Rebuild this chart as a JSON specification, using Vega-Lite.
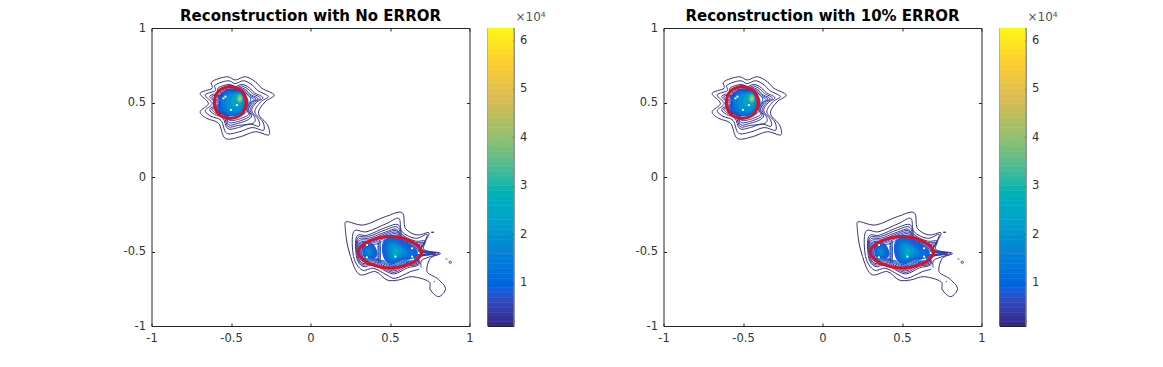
{
"$schema":"https://vega.github.io/schema/vega-lite/v6.json",
"background":"white",
"padding":{"left":122.5,"top":8,"right":5,"bottom":5},
"bounds":"flush",
"spacing":18,
"config":{"view":{"stroke":"#262626","strokeWidth":1},
"axis":{"labelFont":"DejaVu Sans","labelFontSize":11.5,"labelColor":"#333333","tickColor":"#262626","tickSize":-3,"domain":false,"grid":false,"title":null,"labelOverlap":false,"labelBound":false,"labelFlush":false,"labelPadding":9},
"title":{"font":"DejaVu Sans","fontSize":15,"fontWeight":"bold","color":"#000000","offset":-2}},
"datasets":{
"red":[
{"c":"r1","x":-0.505,"y":0.607},{"c":"r1","x":-0.465,"y":0.598},{"c":"r1","x":-0.43,"y":0.575},{"c":"r1","x":-0.412,"y":0.54},{"c":"r1","x":-0.405,"y":0.5},{"c":"r1","x":-0.412,"y":0.46},{"c":"r1","x":-0.43,"y":0.425},{"c":"r1","x":-0.465,"y":0.402},{"c":"r1","x":-0.505,"y":0.393},{"c":"r1","x":-0.545,"y":0.402},{"c":"r1","x":-0.58,"y":0.425},{"c":"r1","x":-0.598,"y":0.46},{"c":"r1","x":-0.605,"y":0.5},{"c":"r1","x":-0.598,"y":0.54},{"c":"r1","x":-0.58,"y":0.575},{"c":"r1","x":-0.545,"y":0.598},
{"c":"r2","x":0.5,"y":-0.4},{"c":"r2","x":0.56,"y":-0.406},{"c":"r2","x":0.62,"y":-0.425},{"c":"r2","x":0.67,"y":-0.455},{"c":"r2","x":0.7,"y":-0.505},{"c":"r2","x":0.67,"y":-0.555},{"c":"r2","x":0.62,"y":-0.585},{"c":"r2","x":0.56,"y":-0.604},{"c":"r2","x":0.5,"y":-0.61},{"c":"r2","x":0.44,"y":-0.604},{"c":"r2","x":0.38,"y":-0.585},{"c":"r2","x":0.33,"y":-0.555},{"c":"r2","x":0.3,"y":-0.505},{"c":"r2","x":0.33,"y":-0.455},{"c":"r2","x":0.38,"y":-0.425},{"c":"r2","x":0.44,"y":-0.406}],
"specks":[{"x":-0.547,"y":0.528},{"x":-0.535,"y":0.54},{"x":-0.5,"y":0.45},{"x":-0.463,"y":0.483},{"x":0.355,"y":-0.456},{"x":0.355,"y":-0.539},{"x":0.534,"y":-0.535},{"x":0.639,"y":-0.479},{"x":0.639,"y":-0.535},{"x":0.691,"y":-0.613}],
"fills":[
{"c":"a1","v":1.0,"x":-0.52,"y":0.59},{"c":"a1","v":1.0,"x":-0.44,"y":0.585},{"c":"a1","v":1.0,"x":-0.4,"y":0.54},{"c":"a1","v":1.0,"x":-0.39,"y":0.49},{"c":"a1","v":1.0,"x":-0.42,"y":0.44},{"c":"a1","v":1.0,"x":-0.47,"y":0.41},{"c":"a1","v":1.0,"x":-0.53,"y":0.41},{"c":"a1","v":1.0,"x":-0.585,"y":0.445},{"c":"a1","v":1.0,"x":-0.575,"y":0.5},{"c":"a1","v":1.0,"x":-0.58,"y":0.54},
{"c":"a2","v":1.4,"x":-0.51,"y":0.575},{"c":"a2","v":1.4,"x":-0.445,"y":0.575},{"c":"a2","v":1.4,"x":-0.41,"y":0.53},{"c":"a2","v":1.4,"x":-0.405,"y":0.48},{"c":"a2","v":1.4,"x":-0.44,"y":0.43},{"c":"a2","v":1.4,"x":-0.5,"y":0.42},{"c":"a2","v":1.4,"x":-0.55,"y":0.45},{"c":"a2","v":1.4,"x":-0.565,"y":0.51},{"c":"a2","v":1.4,"x":-0.55,"y":0.55},
{"c":"a3","v":1.9,"x":-0.5,"y":0.56},{"c":"a3","v":1.9,"x":-0.45,"y":0.565},{"c":"a3","v":1.9,"x":-0.42,"y":0.52},{"c":"a3","v":1.9,"x":-0.425,"y":0.47},{"c":"a3","v":1.9,"x":-0.46,"y":0.44},{"c":"a3","v":1.9,"x":-0.51,"y":0.445},{"c":"a3","v":1.9,"x":-0.535,"y":0.49},{"c":"a3","v":1.9,"x":-0.53,"y":0.535},
{"c":"a4","v":2.4,"x":-0.48,"y":0.55},{"c":"a4","v":2.4,"x":-0.44,"y":0.56},{"c":"a4","v":2.4,"x":-0.425,"y":0.52},{"c":"a4","v":2.4,"x":-0.44,"y":0.48},{"c":"a4","v":2.4,"x":-0.475,"y":0.47},{"c":"a4","v":2.4,"x":-0.5,"y":0.5},
{"c":"a5","v":3.5,"x":-0.45,"y":0.555},{"c":"a5","v":3.5,"x":-0.43,"y":0.54},{"c":"a5","v":3.5,"x":-0.43,"y":0.51},{"c":"a5","v":3.5,"x":-0.45,"y":0.5},{"c":"a5","v":3.5,"x":-0.465,"y":0.525},
{"c":"a6","v":4.8,"x":-0.443,"y":0.54},{"c":"a6","v":4.8,"x":-0.435,"y":0.525},{"c":"a6","v":4.8,"x":-0.447,"y":0.515},{"c":"a6","v":4.8,"x":-0.452,"y":0.528},
{"c":"b1","v":0.8,"x":0.46,"y":-0.43},{"c":"b1","v":0.8,"x":0.53,"y":-0.4},{"c":"b1","v":0.8,"x":0.6,"y":-0.44},{"c":"b1","v":0.8,"x":0.67,"y":-0.49},{"c":"b1","v":0.8,"x":0.66,"y":-0.54},{"c":"b1","v":0.8,"x":0.58,"y":-0.56},{"c":"b1","v":0.8,"x":0.52,"y":-0.585},{"c":"b1","v":0.8,"x":0.47,"y":-0.56},{"c":"b1","v":0.8,"x":0.45,"y":-0.5},
{"c":"b2","v":1.2,"x":0.47,"y":-0.44},{"c":"b2","v":1.2,"x":0.53,"y":-0.42},{"c":"b2","v":1.2,"x":0.59,"y":-0.46},{"c":"b2","v":1.2,"x":0.65,"y":-0.5},{"c":"b2","v":1.2,"x":0.64,"y":-0.53},{"c":"b2","v":1.2,"x":0.57,"y":-0.55},{"c":"b2","v":1.2,"x":0.52,"y":-0.57},{"c":"b2","v":1.2,"x":0.48,"y":-0.55},
{"c":"b3","v":1.6,"x":0.49,"y":-0.45},{"c":"b3","v":1.6,"x":0.53,"y":-0.44},{"c":"b3","v":1.6,"x":0.58,"y":-0.47},{"c":"b3","v":1.6,"x":0.61,"y":-0.51},{"c":"b3","v":1.6,"x":0.56,"y":-0.54},{"c":"b3","v":1.6,"x":0.52,"y":-0.555},{"c":"b3","v":1.6,"x":0.49,"y":-0.53},
{"c":"b4","v":2.1,"x":0.51,"y":-0.46},{"c":"b4","v":2.1,"x":0.54,"y":-0.46},{"c":"b4","v":2.1,"x":0.58,"y":-0.5},{"c":"b4","v":2.1,"x":0.55,"y":-0.53},{"c":"b4","v":2.1,"x":0.52,"y":-0.54},{"c":"b4","v":2.1,"x":0.505,"y":-0.51},
{"c":"b5","v":2.7,"x":0.525,"y":-0.48},{"c":"b5","v":2.7,"x":0.545,"y":-0.485},{"c":"b5","v":2.7,"x":0.55,"y":-0.51},{"c":"b5","v":2.7,"x":0.53,"y":-0.525},{"c":"b5","v":2.7,"x":0.52,"y":-0.505},
{"c":"b6","v":0.8,"x":0.33,"y":-0.46},{"c":"b6","v":0.8,"x":0.39,"y":-0.45},{"c":"b6","v":0.8,"x":0.42,"y":-0.5},{"c":"b6","v":0.8,"x":0.41,"y":-0.54},{"c":"b6","v":0.8,"x":0.34,"y":-0.54},{"c":"b6","v":0.8,"x":0.325,"y":-0.5},
{"c":"b7","v":1.3,"x":0.345,"y":-0.47},{"c":"b7","v":1.3,"x":0.38,"y":-0.47},{"c":"b7","v":1.3,"x":0.395,"y":-0.5},{"c":"b7","v":1.3,"x":0.385,"y":-0.53},{"c":"b7","v":1.3,"x":0.35,"y":-0.53},{"c":"b7","v":1.3,"x":0.34,"y":-0.5},
{"c":"b8","v":1.8,"x":0.355,"y":-0.485},{"c":"b8","v":1.8,"x":0.375,"y":-0.485},{"c":"b8","v":1.8,"x":0.38,"y":-0.51},{"c":"b8","v":1.8,"x":0.36,"y":-0.52}],
"lines":[
{"c":"p1","v":0.15,"x":-0.526,"y":0.673},{"c":"p1","v":0.15,"x":-0.473,"y":0.651},{"c":"p1","v":0.15,"x":-0.41,"y":0.673},{"c":"p1","v":0.15,"x":-0.347,"y":0.64},{"c":"p1","v":0.15,"x":-0.305,"y":0.595},{"c":"p1","v":0.15,"x":-0.228,"y":0.55},{"c":"p1","v":0.15,"x":-0.285,"y":0.505},{"c":"p1","v":0.15,"x":-0.327,"y":0.427},{"c":"p1","v":0.15,"x":-0.27,"y":0.349},{"c":"p1","v":0.15,"x":-0.263,"y":0.282},{"c":"p1","v":0.15,"x":-0.347,"y":0.304},{"c":"p1","v":0.15,"x":-0.442,"y":0.27},{"c":"p1","v":0.15,"x":-0.536,"y":0.259},{"c":"p1","v":0.15,"x":-0.578,"y":0.36},{"c":"p1","v":0.15,"x":-0.652,"y":0.393},{"c":"p1","v":0.15,"x":-0.694,"y":0.438},{"c":"p1","v":0.15,"x":-0.642,"y":0.494},{"c":"p1","v":0.15,"x":-0.694,"y":0.561},{"c":"p1","v":0.15,"x":-0.62,"y":0.595},{"c":"p1","v":0.15,"x":-0.62,"y":0.64},
{"c":"p2","v":0.2,"x":-0.519,"y":0.646},{"c":"p2","v":0.2,"x":-0.474,"y":0.627},{"c":"p2","v":0.2,"x":-0.42,"y":0.646},{"c":"p2","v":0.2,"x":-0.367,"y":0.618},{"c":"p2","v":0.2,"x":-0.331,"y":0.579},{"c":"p2","v":0.2,"x":-0.266,"y":0.541},{"c":"p2","v":0.2,"x":-0.314,"y":0.503},{"c":"p2","v":0.2,"x":-0.35,"y":0.436},{"c":"p2","v":0.2,"x":-0.3,"y":0.37},{"c":"p2","v":0.2,"x":-0.296,"y":0.313},{"c":"p2","v":0.2,"x":-0.367,"y":0.332},{"c":"p2","v":0.2,"x":-0.448,"y":0.303},{"c":"p2","v":0.2,"x":-0.528,"y":0.294},{"c":"p2","v":0.2,"x":-0.563,"y":0.38},{"c":"p2","v":0.2,"x":-0.626,"y":0.408},{"c":"p2","v":0.2,"x":-0.662,"y":0.446},{"c":"p2","v":0.2,"x":-0.618,"y":0.493},{"c":"p2","v":0.2,"x":-0.662,"y":0.55},{"c":"p2","v":0.2,"x":-0.599,"y":0.579},{"c":"p2","v":0.2,"x":-0.599,"y":0.618},
{"c":"p3","v":0.25,"x":-0.513,"y":0.622},{"c":"p3","v":0.25,"x":-0.475,"y":0.606},{"c":"p3","v":0.25,"x":-0.43,"y":0.622},{"c":"p3","v":0.25,"x":-0.384,"y":0.598},{"c":"p3","v":0.25,"x":-0.354,"y":0.566},{"c":"p3","v":0.25,"x":-0.299,"y":0.533},{"c":"p3","v":0.25,"x":-0.34,"y":0.5},{"c":"p3","v":0.25,"x":-0.37,"y":0.445},{"c":"p3","v":0.25,"x":-0.329,"y":0.388},{"c":"p3","v":0.25,"x":-0.324,"y":0.34},{"c":"p3","v":0.25,"x":-0.384,"y":0.356},{"c":"p3","v":0.25,"x":-0.453,"y":0.332},{"c":"p3","v":0.25,"x":-0.52,"y":0.324},{"c":"p3","v":0.25,"x":-0.551,"y":0.396},{"c":"p3","v":0.25,"x":-0.604,"y":0.42},{"c":"p3","v":0.25,"x":-0.634,"y":0.453},{"c":"p3","v":0.25,"x":-0.597,"y":0.493},{"c":"p3","v":0.25,"x":-0.634,"y":0.541},{"c":"p3","v":0.25,"x":-0.581,"y":0.566},{"c":"p3","v":0.25,"x":-0.581,"y":0.598},
{"c":"p35","v":0.28,"x":-0.51,"y":0.611},{"c":"p35","v":0.28,"x":-0.475,"y":0.596},{"c":"p35","v":0.28,"x":-0.434,"y":0.611},{"c":"p35","v":0.28,"x":-0.392,"y":0.589},{"c":"p35","v":0.28,"x":-0.364,"y":0.56},{"c":"p35","v":0.28,"x":-0.315,"y":0.53},{"c":"p35","v":0.28,"x":-0.351,"y":0.5},{"c":"p35","v":0.28,"x":-0.38,"y":0.448},{"c":"p35","v":0.28,"x":-0.35,"y":0.399},{"c":"p35","v":0.28,"x":-0.362,"y":0.36},{"c":"p35","v":0.28,"x":-0.455,"y":0.346},{"c":"p35","v":0.28,"x":-0.517,"y":0.337},{"c":"p35","v":0.28,"x":-0.545,"y":0.404},{"c":"p35","v":0.28,"x":-0.593,"y":0.426},{"c":"p35","v":0.28,"x":-0.621,"y":0.456},{"c":"p35","v":0.28,"x":-0.587,"y":0.492},{"c":"p35","v":0.28,"x":-0.621,"y":0.537},{"c":"p35","v":0.28,"x":-0.572,"y":0.56},{"c":"p35","v":0.28,"x":-0.572,"y":0.589},
{"c":"p4","v":0.32,"x":-0.508,"y":0.6},{"c":"p4","v":0.32,"x":-0.476,"y":0.587},{"c":"p4","v":0.32,"x":-0.438,"y":0.6},{"c":"p4","v":0.32,"x":-0.4,"y":0.58},{"c":"p4","v":0.32,"x":-0.375,"y":0.553},{"c":"p4","v":0.32,"x":-0.33,"y":0.526},{"c":"p4","v":0.32,"x":-0.363,"y":0.5},{"c":"p4","v":0.32,"x":-0.39,"y":0.452},{"c":"p4","v":0.32,"x":-0.37,"y":0.41},{"c":"p4","v":0.32,"x":-0.4,"y":0.38},{"c":"p4","v":0.32,"x":-0.457,"y":0.36},{"c":"p4","v":0.32,"x":-0.514,"y":0.35},{"c":"p4","v":0.32,"x":-0.539,"y":0.412},{"c":"p4","v":0.32,"x":-0.583,"y":0.432},{"c":"p4","v":0.32,"x":-0.608,"y":0.459},{"c":"p4","v":0.32,"x":-0.577,"y":0.492},{"c":"p4","v":0.32,"x":-0.608,"y":0.533},{"c":"p4","v":0.32,"x":-0.564,"y":0.553},{"c":"p4","v":0.32,"x":-0.564,"y":0.58},
{"c":"p45","v":0.4,"x":-0.506,"y":0.592},{"c":"p45","v":0.4,"x":-0.476,"y":0.58},{"c":"p45","v":0.4,"x":-0.44,"y":0.592},{"c":"p45","v":0.4,"x":-0.405,"y":0.574},{"c":"p45","v":0.4,"x":-0.382,"y":0.549},{"c":"p45","v":0.4,"x":-0.342,"y":0.523},{"c":"p45","v":0.4,"x":-0.372,"y":0.499},{"c":"p45","v":0.4,"x":-0.395,"y":0.453},{"c":"p45","v":0.4,"x":-0.38,"y":0.415},{"c":"p45","v":0.4,"x":-0.41,"y":0.39},{"c":"p45","v":0.4,"x":-0.458,"y":0.372},{"c":"p45","v":0.4,"x":-0.512,"y":0.365},{"c":"p45","v":0.4,"x":-0.535,"y":0.418},{"c":"p45","v":0.4,"x":-0.576,"y":0.436},{"c":"p45","v":0.4,"x":-0.601,"y":0.46},{"c":"p45","v":0.4,"x":-0.571,"y":0.492},{"c":"p45","v":0.4,"x":-0.599,"y":0.529},{"c":"p45","v":0.4,"x":-0.558,"y":0.549},{"c":"p45","v":0.4,"x":-0.558,"y":0.574},
{"c":"p5","v":0.55,"x":-0.504,"y":0.585},{"c":"p5","v":0.55,"x":-0.476,"y":0.574},{"c":"p5","v":0.55,"x":-0.443,"y":0.585},{"c":"p5","v":0.55,"x":-0.41,"y":0.568},{"c":"p5","v":0.55,"x":-0.39,"y":0.545},{"c":"p5","v":0.55,"x":-0.355,"y":0.52},{"c":"p5","v":0.55,"x":-0.38,"y":0.498},{"c":"p5","v":0.55,"x":-0.4,"y":0.455},{"c":"p5","v":0.55,"x":-0.39,"y":0.42},{"c":"p5","v":0.55,"x":-0.42,"y":0.4},{"c":"p5","v":0.55,"x":-0.46,"y":0.385},{"c":"p5","v":0.55,"x":-0.51,"y":0.38},{"c":"p5","v":0.55,"x":-0.53,"y":0.425},{"c":"p5","v":0.55,"x":-0.57,"y":0.44},{"c":"p5","v":0.55,"x":-0.595,"y":0.46},{"c":"p5","v":0.55,"x":-0.565,"y":0.492},{"c":"p5","v":0.55,"x":-0.59,"y":0.525},{"c":"p5","v":0.55,"x":-0.553,"y":0.545},{"c":"p5","v":0.55,"x":-0.553,"y":0.568},
{"c":"p6","v":0.8,"x":-0.5,"y":0.575},{"c":"p6","v":0.8,"x":-0.44,"y":0.575},{"c":"p6","v":0.8,"x":-0.4,"y":0.555},{"c":"p6","v":0.8,"x":-0.375,"y":0.52},{"c":"p6","v":0.8,"x":-0.4,"y":0.47},{"c":"p6","v":0.8,"x":-0.41,"y":0.43},{"c":"p6","v":0.8,"x":-0.46,"y":0.405},{"c":"p6","v":0.8,"x":-0.51,"y":0.4},{"c":"p6","v":0.8,"x":-0.53,"y":0.43},{"c":"p6","v":0.8,"x":-0.585,"y":0.455},{"c":"p6","v":0.8,"x":-0.56,"y":0.49},{"c":"p6","v":0.8,"x":-0.575,"y":0.52},{"c":"p6","v":0.8,"x":-0.545,"y":0.54},{"c":"p6","v":0.8,"x":-0.54,"y":0.56},
{"c":"q1","v":0.15,"x":0.229,"y":-0.3},{"c":"q1","v":0.15,"x":0.334,"y":-0.322},{"c":"q1","v":0.15,"x":0.471,"y":-0.266},{"c":"q1","v":0.15,"x":0.576,"y":-0.239},{"c":"q1","v":0.15,"x":0.597,"y":-0.345},{"c":"q1","v":0.15,"x":0.67,"y":-0.389},{"c":"q1","v":0.15,"x":0.744,"y":-0.374},{"c":"q1","v":0.15,"x":0.723,"y":-0.434},{"c":"q1","v":0.15,"x":0.717,"y":-0.49},{"c":"q1","v":0.15,"x":0.817,"y":-0.512},{"c":"q1","v":0.15,"x":0.754,"y":-0.546},{"c":"q1","v":0.15,"x":0.733,"y":-0.635},{"c":"q1","v":0.15,"x":0.796,"y":-0.68},{"c":"q1","v":0.15,"x":0.849,"y":-0.747},{"c":"q1","v":0.15,"x":0.807,"y":-0.803},{"c":"q1","v":0.15,"x":0.754,"y":-0.758},{"c":"q1","v":0.15,"x":0.744,"y":-0.702},{"c":"q1","v":0.15,"x":0.639,"y":-0.669},{"c":"q1","v":0.15,"x":0.555,"y":-0.691},{"c":"q1","v":0.15,"x":0.481,"y":-0.691},{"c":"q1","v":0.15,"x":0.408,"y":-0.635},{"c":"q1","v":0.15,"x":0.303,"y":-0.651},{"c":"q1","v":0.15,"x":0.24,"y":-0.49},{"c":"q1","v":0.15,"x":0.219,"y":-0.345},
{"c":"q2","v":0.2,"x":0.271,"y":-0.367},{"c":"q2","v":0.2,"x":0.355,"y":-0.367},{"c":"q2","v":0.2,"x":0.481,"y":-0.311},{"c":"q2","v":0.2,"x":0.555,"y":-0.277},{"c":"q2","v":0.2,"x":0.576,"y":-0.367},{"c":"q2","v":0.2,"x":0.66,"y":-0.412},{"c":"q2","v":0.2,"x":0.733,"y":-0.385},{"c":"q2","v":0.2,"x":0.712,"y":-0.445},{"c":"q2","v":0.2,"x":0.691,"y":-0.501},{"c":"q2","v":0.2,"x":0.807,"y":-0.512},{"c":"q2","v":0.2,"x":0.702,"y":-0.557},{"c":"q2","v":0.2,"x":0.691,"y":-0.613},{"c":"q2","v":0.2,"x":0.628,"y":-0.635},{"c":"q2","v":0.2,"x":0.534,"y":-0.68},{"c":"q2","v":0.2,"x":0.481,"y":-0.658},{"c":"q2","v":0.2,"x":0.397,"y":-0.613},{"c":"q2","v":0.2,"x":0.324,"y":-0.624},{"c":"q2","v":0.2,"x":0.271,"y":-0.535},
{"c":"q3","v":0.25,"x":0.29,"y":-0.4},{"c":"q3","v":0.25,"x":0.36,"y":-0.39},{"c":"q3","v":0.25,"x":0.47,"y":-0.34},{"c":"q3","v":0.25,"x":0.55,"y":-0.32},{"c":"q3","v":0.25,"x":0.58,"y":-0.39},{"c":"q3","v":0.25,"x":0.66,"y":-0.43},{"c":"q3","v":0.25,"x":0.72,"y":-0.43},{"c":"q3","v":0.25,"x":0.7,"y":-0.49},{"c":"q3","v":0.25,"x":0.79,"y":-0.515},{"c":"q3","v":0.25,"x":0.69,"y":-0.535},{"c":"q3","v":0.25,"x":0.68,"y":-0.59},{"c":"q3","v":0.25,"x":0.61,"y":-0.61},{"c":"q3","v":0.25,"x":0.53,"y":-0.65},{"c":"q3","v":0.25,"x":0.47,"y":-0.63},{"c":"q3","v":0.25,"x":0.4,"y":-0.59},{"c":"q3","v":0.25,"x":0.33,"y":-0.6},{"c":"q3","v":0.25,"x":0.29,"y":-0.54},
{"c":"q35","v":0.28,"x":0.295,"y":-0.41},{"c":"q35","v":0.28,"x":0.365,"y":-0.4},{"c":"q35","v":0.28,"x":0.47,"y":-0.355},{"c":"q35","v":0.28,"x":0.545,"y":-0.335},{"c":"q35","v":0.28,"x":0.58,"y":-0.4},{"c":"q35","v":0.28,"x":0.66,"y":-0.44},{"c":"q35","v":0.28,"x":0.715,"y":-0.44},{"c":"q35","v":0.28,"x":0.695,"y":-0.49},{"c":"q35","v":0.28,"x":0.78,"y":-0.515},{"c":"q35","v":0.28,"x":0.685,"y":-0.532},{"c":"q35","v":0.28,"x":0.675,"y":-0.585},{"c":"q35","v":0.28,"x":0.605,"y":-0.6},{"c":"q35","v":0.28,"x":0.53,"y":-0.64},{"c":"q35","v":0.28,"x":0.47,"y":-0.62},{"c":"q35","v":0.28,"x":0.4,"y":-0.58},{"c":"q35","v":0.28,"x":0.33,"y":-0.59},{"c":"q35","v":0.28,"x":0.295,"y":-0.535},
{"c":"q4","v":0.32,"x":0.3,"y":-0.42},{"c":"q4","v":0.32,"x":0.37,"y":-0.41},{"c":"q4","v":0.32,"x":0.47,"y":-0.37},{"c":"q4","v":0.32,"x":0.54,"y":-0.35},{"c":"q4","v":0.32,"x":0.58,"y":-0.41},{"c":"q4","v":0.32,"x":0.66,"y":-0.45},{"c":"q4","v":0.32,"x":0.71,"y":-0.45},{"c":"q4","v":0.32,"x":0.69,"y":-0.49},{"c":"q4","v":0.32,"x":0.77,"y":-0.515},{"c":"q4","v":0.32,"x":0.68,"y":-0.53},{"c":"q4","v":0.32,"x":0.67,"y":-0.58},{"c":"q4","v":0.32,"x":0.6,"y":-0.59},{"c":"q4","v":0.32,"x":0.53,"y":-0.63},{"c":"q4","v":0.32,"x":0.47,"y":-0.61},{"c":"q4","v":0.32,"x":0.4,"y":-0.57},{"c":"q4","v":0.32,"x":0.33,"y":-0.58},{"c":"q4","v":0.32,"x":0.3,"y":-0.53},
{"c":"q45","v":0.4,"x":0.305,"y":-0.43},{"c":"q45","v":0.4,"x":0.375,"y":-0.42},{"c":"q45","v":0.4,"x":0.47,"y":-0.38},{"c":"q45","v":0.4,"x":0.54,"y":-0.36},{"c":"q45","v":0.4,"x":0.58,"y":-0.415},{"c":"q45","v":0.4,"x":0.655,"y":-0.455},{"c":"q45","v":0.4,"x":0.7,"y":-0.46},{"c":"q45","v":0.4,"x":0.685,"y":-0.495},{"c":"q45","v":0.4,"x":0.76,"y":-0.515},{"c":"q45","v":0.4,"x":0.675,"y":-0.528},{"c":"q45","v":0.4,"x":0.665,"y":-0.575},{"c":"q45","v":0.4,"x":0.6,"y":-0.582},{"c":"q45","v":0.4,"x":0.53,"y":-0.62},{"c":"q45","v":0.4,"x":0.47,"y":-0.6},{"c":"q45","v":0.4,"x":0.4,"y":-0.562},{"c":"q45","v":0.4,"x":0.335,"y":-0.57},{"c":"q45","v":0.4,"x":0.305,"y":-0.525},
{"c":"q5","v":0.5,"x":0.31,"y":-0.44},{"c":"q5","v":0.5,"x":0.38,"y":-0.43},{"c":"q5","v":0.5,"x":0.47,"y":-0.39},{"c":"q5","v":0.5,"x":0.54,"y":-0.37},{"c":"q5","v":0.5,"x":0.58,"y":-0.42},{"c":"q5","v":0.5,"x":0.65,"y":-0.46},{"c":"q5","v":0.5,"x":0.69,"y":-0.47},{"c":"q5","v":0.5,"x":0.68,"y":-0.5},{"c":"q5","v":0.5,"x":0.75,"y":-0.515},{"c":"q5","v":0.5,"x":0.67,"y":-0.525},{"c":"q5","v":0.5,"x":0.66,"y":-0.57},{"c":"q5","v":0.5,"x":0.6,"y":-0.575},{"c":"q5","v":0.5,"x":0.53,"y":-0.61},{"c":"q5","v":0.5,"x":0.47,"y":-0.59},{"c":"q5","v":0.5,"x":0.4,"y":-0.555},{"c":"q5","v":0.5,"x":0.34,"y":-0.56},{"c":"q5","v":0.5,"x":0.31,"y":-0.52},
{"c":"q56","v":0.65,"x":0.315,"y":-0.445},{"c":"q56","v":0.65,"x":0.385,"y":-0.438},{"c":"q56","v":0.65,"x":0.47,"y":-0.4},{"c":"q56","v":0.65,"x":0.54,"y":-0.38},{"c":"q56","v":0.65,"x":0.58,"y":-0.425},{"c":"q56","v":0.65,"x":0.645,"y":-0.465},{"c":"q56","v":0.65,"x":0.68,"y":-0.475},{"c":"q56","v":0.65,"x":0.74,"y":-0.515},{"c":"q56","v":0.65,"x":0.665,"y":-0.525},{"c":"q56","v":0.65,"x":0.655,"y":-0.565},{"c":"q56","v":0.65,"x":0.595,"y":-0.57},{"c":"q56","v":0.65,"x":0.53,"y":-0.602},{"c":"q56","v":0.65,"x":0.47,"y":-0.582},{"c":"q56","v":0.65,"x":0.4,"y":-0.548},{"c":"q56","v":0.65,"x":0.34,"y":-0.552},{"c":"q56","v":0.65,"x":0.315,"y":-0.515},
{"c":"q6","v":0.8,"x":0.32,"y":-0.45},{"c":"q6","v":0.8,"x":0.39,"y":-0.445},{"c":"q6","v":0.8,"x":0.47,"y":-0.41},{"c":"q6","v":0.8,"x":0.54,"y":-0.39},{"c":"q6","v":0.8,"x":0.58,"y":-0.43},{"c":"q6","v":0.8,"x":0.64,"y":-0.47},{"c":"q6","v":0.8,"x":0.67,"y":-0.48},{"c":"q6","v":0.8,"x":0.73,"y":-0.515},{"c":"q6","v":0.8,"x":0.66,"y":-0.525},{"c":"q6","v":0.8,"x":0.65,"y":-0.56},{"c":"q6","v":0.8,"x":0.59,"y":-0.565},{"c":"q6","v":0.8,"x":0.53,"y":-0.595},{"c":"q6","v":0.8,"x":0.47,"y":-0.575},{"c":"q6","v":0.8,"x":0.4,"y":-0.54},{"c":"q6","v":0.8,"x":0.34,"y":-0.545},{"c":"q6","v":0.8,"x":0.32,"y":-0.51},
{"c":"q7","v":0.95,"x":0.325,"y":-0.46},{"c":"q7","v":0.95,"x":0.39,"y":-0.455},{"c":"q7","v":0.95,"x":0.44,"y":-0.44},{"c":"q7","v":0.95,"x":0.47,"y":-0.42},{"c":"q7","v":0.95,"x":0.54,"y":-0.4},{"c":"q7","v":0.95,"x":0.6,"y":-0.44},{"c":"q7","v":0.95,"x":0.66,"y":-0.475},{"c":"q7","v":0.95,"x":0.69,"y":-0.515},{"c":"q7","v":0.95,"x":0.66,"y":-0.535},{"c":"q7","v":0.95,"x":0.58,"y":-0.565},{"c":"q7","v":0.95,"x":0.52,"y":-0.59},{"c":"q7","v":0.95,"x":0.47,"y":-0.565},{"c":"q7","v":0.95,"x":0.44,"y":-0.56},{"c":"q7","v":0.95,"x":0.39,"y":-0.55},{"c":"q7","v":0.95,"x":0.335,"y":-0.545},{"c":"q7","v":0.95,"x":0.32,"y":-0.5},
{"c":"s1","v":0.6,"x":0.425,"y":-0.44},{"c":"s1","v":0.6,"x":0.43,"y":-0.5},{"c":"s1","v":0.6,"x":0.425,"y":-0.56},
{"c":"s2","v":0.6,"x":0.437,"y":-0.43},{"c":"s2","v":0.6,"x":0.44,"y":-0.5},{"c":"s2","v":0.6,"x":0.437,"y":-0.57},
{"c":"d1","v":0.15,"x":0.76,"y":-0.371},{"c":"d1","v":0.15,"x":0.775,"y":-0.371},
{"c":"d2","v":0.15,"x":0.853,"y":-0.547},{"c":"d2","v":0.15,"x":0.858,"y":-0.553},
{"c":"d3","v":0.15,"x":0.875,"y":-0.565},{"c":"d3","v":0.15,"x":0.887,"y":-0.57},{"c":"d3","v":0.15,"x":0.88,"y":-0.582},{"c":"d3","v":0.15,"x":0.872,"y":-0.575},
{"c":"d4","v":0.15,"x":0.778,"y":-0.7},{"c":"d4","v":0.15,"x":0.782,"y":-0.705}],
"bar":[{"v":0.1,"w":0.2},{"v":0.2,"w":0.3},{"v":0.3,"w":0.4},{"v":0.4,"w":0.5},{"v":0.5,"w":0.6},{"v":0.6,"w":0.7},{"v":0.7,"w":0.8},{"v":0.8,"w":0.9},{"v":0.9,"w":1.0},{"v":1.0,"w":1.1},{"v":1.1,"w":1.2},{"v":1.2,"w":1.3},{"v":1.3,"w":1.4},{"v":1.4,"w":1.5},{"v":1.5,"w":1.6},{"v":1.6,"w":1.7},{"v":1.7,"w":1.8},{"v":1.8,"w":1.9},{"v":1.9,"w":2.0},{"v":2.0,"w":2.1},{"v":2.1,"w":2.2},{"v":2.2,"w":2.3},{"v":2.3,"w":2.4},{"v":2.4,"w":2.5},{"v":2.5,"w":2.6},{"v":2.6,"w":2.7},{"v":2.7,"w":2.8},{"v":2.8,"w":2.9},{"v":2.9,"w":3.0},{"v":3.0,"w":3.1},{"v":3.1,"w":3.2},{"v":3.2,"w":3.3},{"v":3.3,"w":3.4},{"v":3.4,"w":3.5},{"v":3.5,"w":3.6},{"v":3.6,"w":3.7},{"v":3.7,"w":3.8},{"v":3.8,"w":3.9},{"v":3.9,"w":4.0},{"v":4.0,"w":4.1},{"v":4.1,"w":4.2},{"v":4.2,"w":4.3},{"v":4.3,"w":4.4},{"v":4.4,"w":4.5},{"v":4.5,"w":4.6},{"v":4.6,"w":4.7},{"v":4.7,"w":4.8},{"v":4.8,"w":4.9},{"v":4.9,"w":5.0},{"v":5.0,"w":5.1},{"v":5.1,"w":5.2},{"v":5.2,"w":5.3},{"v":5.3,"w":5.4},{"v":5.4,"w":5.5},{"v":5.5,"w":5.6},{"v":5.6,"w":5.7},{"v":5.7,"w":5.8},{"v":5.8,"w":5.9},{"v":5.9,"w":6.0},{"v":6.0,"w":6.1},{"v":6.1,"w":6.2},{"v":6.2,"w":6.3}]
},
"hconcat":[
{"width":318,"height":298,"title":"Reconstruction with No ERROR",
"resolve":{"axis":{"x":"independent","y":"independent"}},
"layer":[
{"data":{"name":"fills"},"mark":{"type":"line","filled":true,"clip":true,"interpolate":"cardinal-closed"},
"encoding":{"x":{"field":"x","type":"quantitative","scale":{"domain":[-1,1],"nice":false},"axis":{"values":[-1,-0.5,0,0.5,1],"format":"~g","labelExpr":"replace(datum.label,'−','-')"}},
"y":{"field":"y","type":"quantitative","scale":{"domain":[-1,1],"nice":false},"axis":{"values":[-1,-0.5,0,0.5,1],"format":"~g","labelExpr":"replace(datum.label,'−','-')"}},
"detail":{"field":"c"},"order":{"value":null},
"color":{"field":"v","type":"quantitative","legend":null,"scale":{"domain":[0.115,6.247],"range":["#352a87","#0363e1","#1485d4","#06a7c6","#38b99e","#92bf73","#d9ba56","#fcce2e","#f9fb0e"]}}}},
{"data":{"name":"lines"},"mark":{"type":"line","strokeWidth":1,"clip":true,"interpolate":"cardinal-closed"},
"encoding":{"x":{"field":"x","type":"quantitative","scale":{"domain":[-1,1],"nice":false},"axis":null},
"y":{"field":"y","type":"quantitative","scale":{"domain":[-1,1],"nice":false},"axis":null},
"detail":{"field":"c"},"order":{"value":null},
"color":{"field":"v","type":"quantitative","legend":null,"scale":{"domain":[0.115,6.247],"range":["#352a87","#0363e1","#1485d4","#06a7c6","#38b99e","#92bf73","#d9ba56","#fcce2e","#f9fb0e"]}}}},
{"data":{"name":"specks"},"mark":{"type":"circle","size":5,"color":"white","opacity":1},
"encoding":{"x":{"field":"x","type":"quantitative","scale":{"domain":[-1,1],"nice":false},"axis":null},"y":{"field":"y","type":"quantitative","scale":{"domain":[-1,1],"nice":false},"axis":null}}},
{"data":{"name":"red"},"mark":{"type":"line","color":"#e01020","strokeWidth":3,"interpolate":"cardinal-closed"},
"encoding":{"x":{"field":"x","type":"quantitative","scale":{"domain":[-1,1],"nice":false},"axis":{"orient":"top","values":[-1,-0.5,0,0.5,1],"labels":false}},
"y":{"field":"y","type":"quantitative","scale":{"domain":[-1,1],"nice":false},"axis":{"orient":"right","values":[-1,-0.5,0,0.5,1],"labels":false}},
"detail":{"field":"c"},"order":{"value":null}}}
]},
{"width":26,"height":298,"title":{"text":"×10⁴","anchor":"start","dx":28,"fontSize":12,"fontWeight":"normal","color":"#555555","font":"DejaVu Sans","offset":4},
"data":{"name":"bar"},"mark":{"type":"rect","clip":true,"strokeWidth":0.6},
"encoding":{"y":{"field":"v","type":"quantitative","scale":{"domain":[0.115,6.247],"nice":false,"zero":false},"axis":{"orient":"right","values":[1,2,3,4,5,6],"format":"d"}},
"y2":{"field":"w"},
"stroke":{"field":"v","type":"quantitative","legend":null,"scale":{"domain":[0.115,6.247],"range":["#352a87","#0363e1","#1485d4","#06a7c6","#38b99e","#92bf73","#d9ba56","#fcce2e","#f9fb0e"]}},
"fill":{"field":"v","type":"quantitative","legend":null,"scale":{"domain":[0.115,6.247],"range":["#352a87","#0363e1","#1485d4","#06a7c6","#38b99e","#92bf73","#d9ba56","#fcce2e","#f9fb0e"]}}}},
{"width":114,"height":298,"view":{"stroke":null},"data":{"values":[{"a":1}]},"mark":{"type":"rule","opacity":0},"encoding":{}},
{"width":318,"height":298,"title":"Reconstruction with 10% ERROR",
"resolve":{"axis":{"x":"independent","y":"independent"}},
"layer":[
{"data":{"name":"fills"},"mark":{"type":"line","filled":true,"clip":true,"interpolate":"cardinal-closed"},
"encoding":{"x":{"field":"x","type":"quantitative","scale":{"domain":[-1,1],"nice":false},"axis":{"values":[-1,-0.5,0,0.5,1],"format":"~g","labelExpr":"replace(datum.label,'−','-')"}},
"y":{"field":"y","type":"quantitative","scale":{"domain":[-1,1],"nice":false},"axis":{"values":[-1,-0.5,0,0.5,1],"format":"~g","labelExpr":"replace(datum.label,'−','-')"}},
"detail":{"field":"c"},"order":{"value":null},
"color":{"field":"v","type":"quantitative","legend":null,"scale":{"domain":[0.115,6.247],"range":["#352a87","#0363e1","#1485d4","#06a7c6","#38b99e","#92bf73","#d9ba56","#fcce2e","#f9fb0e"]}}}},
{"data":{"name":"lines"},"mark":{"type":"line","strokeWidth":1,"clip":true,"interpolate":"cardinal-closed"},
"encoding":{"x":{"field":"x","type":"quantitative","scale":{"domain":[-1,1],"nice":false},"axis":null},
"y":{"field":"y","type":"quantitative","scale":{"domain":[-1,1],"nice":false},"axis":null},
"detail":{"field":"c"},"order":{"value":null},
"color":{"field":"v","type":"quantitative","legend":null,"scale":{"domain":[0.115,6.247],"range":["#352a87","#0363e1","#1485d4","#06a7c6","#38b99e","#92bf73","#d9ba56","#fcce2e","#f9fb0e"]}}}},
{"data":{"name":"specks"},"mark":{"type":"circle","size":5,"color":"white","opacity":1},
"encoding":{"x":{"field":"x","type":"quantitative","scale":{"domain":[-1,1],"nice":false},"axis":null},"y":{"field":"y","type":"quantitative","scale":{"domain":[-1,1],"nice":false},"axis":null}}},
{"data":{"name":"red"},"mark":{"type":"line","color":"#e01020","strokeWidth":3,"interpolate":"cardinal-closed"},
"encoding":{"x":{"field":"x","type":"quantitative","scale":{"domain":[-1,1],"nice":false},"axis":{"orient":"top","values":[-1,-0.5,0,0.5,1],"labels":false}},
"y":{"field":"y","type":"quantitative","scale":{"domain":[-1,1],"nice":false},"axis":{"orient":"right","values":[-1,-0.5,0,0.5,1],"labels":false}},
"detail":{"field":"c"},"order":{"value":null}}}
]},
{"width":26,"height":298,"title":{"text":"×10⁴","anchor":"start","dx":28,"fontSize":12,"fontWeight":"normal","color":"#555555","font":"DejaVu Sans","offset":4},
"data":{"name":"bar"},"mark":{"type":"rect","clip":true,"strokeWidth":0.6},
"encoding":{"y":{"field":"v","type":"quantitative","scale":{"domain":[0.115,6.247],"nice":false,"zero":false},"axis":{"orient":"right","values":[1,2,3,4,5,6],"format":"d"}},
"y2":{"field":"w"},
"stroke":{"field":"v","type":"quantitative","legend":null,"scale":{"domain":[0.115,6.247],"range":["#352a87","#0363e1","#1485d4","#06a7c6","#38b99e","#92bf73","#d9ba56","#fcce2e","#f9fb0e"]}},
"fill":{"field":"v","type":"quantitative","legend":null,"scale":{"domain":[0.115,6.247],"range":["#352a87","#0363e1","#1485d4","#06a7c6","#38b99e","#92bf73","#d9ba56","#fcce2e","#f9fb0e"]}}}}
]
}
